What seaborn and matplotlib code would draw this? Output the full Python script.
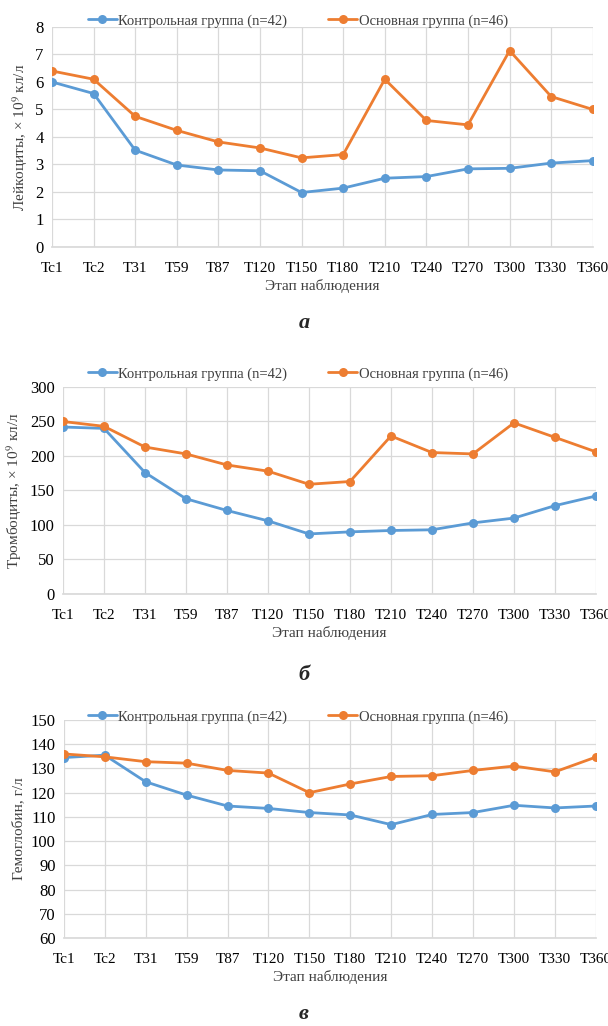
import matplotlib
import matplotlib.pyplot as plt
import pandas as pd
import seaborn as sns

matplotlib.use("Agg")

STAGES = ["Tc1", "Tc2", "T31", "T59", "T87", "T120", "T150", "T180",
          "T210", "T240", "T270", "T300", "T330", "T360"]
GROUP_CONTROL = "Контрольная группа (n=42)"
GROUP_MAIN = "Основная группа (n=46)"

leuko_control = [6.0, 5.58, 3.52, 2.98, 2.8, 2.77, 1.98, 2.14, 2.5, 2.56, 2.84, 2.86, 3.05, 3.14]
leuko_main = [6.4, 6.1, 4.75, 4.24, 3.82, 3.6, 3.24, 3.36, 6.1, 4.6, 4.44, 7.14, 5.47, 5.0]

platelet_control = [242, 240, 176, 138, 121, 106, 87, 90, 92, 93, 103, 110, 128, 142]
platelet_main = [250, 243, 213, 203, 187, 178, 159, 163, 229, 205, 203, 248, 227, 206]

hb_control = [134.5, 135.5, 124.5, 119, 114.5, 113.5, 111.8, 110.8, 106.8, 111, 111.8, 114.8, 113.7, 114.5]
hb_main = [136, 134.8, 132.8, 132.2, 129.2, 128.1, 120, 123.6, 126.7, 127, 129.2, 131, 128.6, 134.7]

BLUE = "#5B9BD5"
ORANGE = "#ED7D31"
GRID = "#D9D9D9"
TEXT = "#404040"


def long_frame(control, main):
    rows = []
    for i, (c, m) in enumerate(zip(control, main)):
        rows.append({"stage": i, "value": c, "group": GROUP_CONTROL})
        rows.append({"stage": i, "value": m, "group": GROUP_MAIN})
    return pd.DataFrame(rows)


def draw_panel(fig, rect, control, main, ylabel, ylim, ystep, letter, letter_y, legend_y):
    ax = fig.add_axes(rect)
    df = long_frame(control, main)
    sns.lineplot(
        data=df, x="stage", y="value", hue="group",
        palette={GROUP_CONTROL: BLUE, GROUP_MAIN: ORANGE},
        marker="o", markersize=6.5, markeredgewidth=0, linewidth=2.0, ax=ax,
    )
    ax.set_xlim(0, len(STAGES) - 1)
    ax.set_ylim(*ylim)
    ax.set_xticks(range(len(STAGES)))
    ax.set_xticklabels(STAGES)
    ticks = list(range(ylim[0], ylim[1] + 1, ystep))
    ax.set_yticks(ticks)
    ax.grid(True, color=GRID, linewidth=0.9)
    ax.set_axisbelow(True)
    for side in ["top", "right", "left"]:
        ax.spines[side].set_visible(False)
    ax.spines["bottom"].set_color(GRID)
    ax.tick_params(axis="x", length=0, labelsize=11, colors="black", pad=11)
    ax.tick_params(axis="y", length=0, labelsize=12, colors="black", pad=6)
    ax.set_xlabel("Этап наблюдения", fontsize=11, color=TEXT, labelpad=3)
    ax.set_ylabel(ylabel, fontsize=11, color=TEXT, labelpad=4)
    leg = ax.legend(
        loc="center", bbox_to_anchor=(0.49, legend_y), bbox_transform=fig.transFigure,
        ncol=2, frameon=False, fontsize=10.5, handlelength=2.0, handletextpad=0.1,
        columnspacing=2.8, borderaxespad=0,
    )
    for t in leg.get_texts():
        t.set_color(TEXT)
    fig.text(0.5, letter_y, letter, ha="center", va="center",
             fontsize=16, fontweight="bold", fontstyle="italic")
    return ax


def main():
    sns.set_theme(style="white")
    plt.rcParams["font.family"] = ["Liberation Serif", "DejaVu Serif"]
    plt.rcParams["mathtext.fontset"] = "stix"

    fig = plt.figure(figsize=(6.08, 10.26), dpi=100)

    draw_panel(fig, [0.0855, 0.7593, 0.8895, 0.2144], leuko_control, leuko_main,
               "Лейкоциты, × 10$^9$ кл/л", (0, 8), 1, "а", 1 - 323 / 1026, 1 - 21 / 1026)
    draw_panel(fig, [0.1036, 0.4211, 0.8766, 0.2017], platelet_control, platelet_main,
               "Тромбоциты, × 10$^9$ кл/л", (0, 300), 50, "б", 1 - 675 / 1026, 1 - 374 / 1026)
    draw_panel(fig, [0.105, 0.0858, 0.875, 0.2124], hb_control, hb_main,
               "Гемоглобин, г/л", (60, 150), 10, "в", 1 - 1014 / 1026, 1 - 717 / 1026)

    fig.savefig("out.png", dpi=100)


if __name__ == "__main__":
    main()
